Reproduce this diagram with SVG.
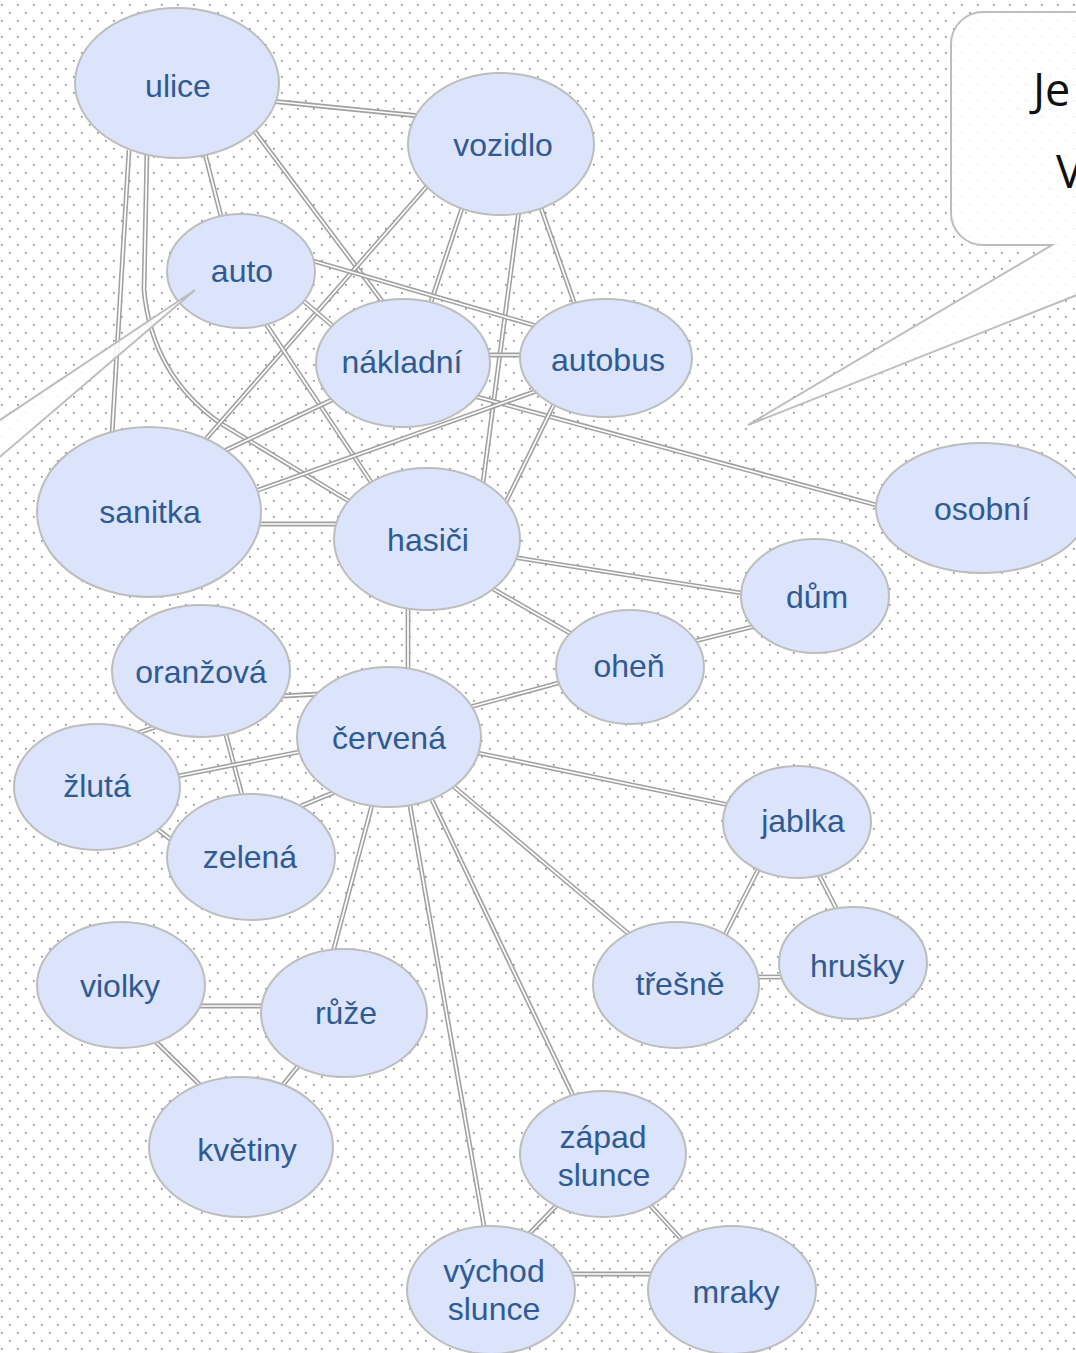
<svg xmlns="http://www.w3.org/2000/svg" xmlns:xlink="http://www.w3.org/1999/xlink" width="1076" height="1353" viewBox="0 0 1076 1353">
<defs>
<pattern id="dots" width="16" height="16" patternUnits="userSpaceOnUse">
<rect x="1" y="4" width="1.7" height="1.7" fill="#8e8e8e"/>
<rect x="9" y="12" width="1.7" height="1.7" fill="#8e8e8e"/>
</pattern>
<path id="e1" d="M270,101 L420,116"/>
<path id="e2" d="M204,150 L222,220"/>
<path id="e3" d="M250,125 L385,305"/>
<path id="e4" d="M129,150 L112,435"/>
<path id="e5" d="M147,150 L144,290 Q152,375 220,423 L352,503"/>
<path id="e6" d="M428,185 L205,440"/>
<path id="e7" d="M463,205 L430,305"/>
<path id="e8" d="M519,210 L482,490"/>
<path id="e9" d="M540,205 L575,305"/>
<path id="e10" d="M310,260 L540,327"/>
<path id="e11" d="M300,298 L335,328"/>
<path id="e12" d="M262,318 L375,488"/>
<path id="e13" d="M485,355 L525,355"/>
<path id="e14" d="M470,395 L880,506"/>
<path id="e15" d="M338,397 L222,452"/>
<path id="e16" d="M545,388 L250,493"/>
<path id="e17" d="M558,396 L504,506"/>
<path id="e18" d="M255,524 L340,524"/>
<path id="e19" d="M512,557 L748,594"/>
<path id="e20" d="M488,586 L575,636"/>
<path id="e21" d="M408,605 L408,672"/>
<path id="e22" d="M695,641 L756,626"/>
<path id="e23" d="M470,707 L562,682"/>
<path id="e24" d="M283,696 L320,694"/>
<path id="e25" d="M138,733 L158,726"/>
<path id="e26" d="M226,735 L242,795"/>
<path id="e27" d="M178,776 L299,752"/>
<path id="e28" d="M156,828 L174,842"/>
<path id="e29" d="M301,806 L335,792"/>
<path id="e30" d="M478,753 L729,805"/>
<path id="e31" d="M453,786 L630,935"/>
<path id="e32" d="M372,805 L333,952"/>
<path id="e33" d="M432,800 L575,1100"/>
<path id="e34" d="M409,800 L485,1232"/>
<path id="e35" d="M759,868 L725,935"/>
<path id="e36" d="M818,873 L837,910"/>
<path id="e37" d="M758,977 L782,977"/>
<path id="e38" d="M200,1006 L263,1006"/>
<path id="e39" d="M155,1041 L200,1085"/>
<path id="e40" d="M299,1065 L282,1086"/>
<path id="e41" d="M557,1205 L528,1235"/>
<path id="e42" d="M650,1205 L682,1240"/>
<path id="e43" d="M570,1274 L653,1274"/>
</defs>
<style>
.o{fill:none;stroke:#a0a0a0;stroke-width:4.8}
.i{fill:none;stroke:#ffffff;stroke-width:1.7}
.n ellipse{fill:#dbe4fb;stroke:#bdbdbd;stroke-width:2}
.n text{font-family:"Liberation Sans",Arial,sans-serif;font-size:32px;fill:#2f5b92;text-anchor:middle}
.callout{fill:#ffffff;fill-opacity:0.85;stroke:#bdbdbd;stroke-width:2}
.ct{font-family:"Open Sans","Noto Sans",sans-serif;font-size:45px;fill:#111111}
</style>
<rect width="1076" height="1353" fill="#ffffff"/>
<rect width="1076" height="1353" fill="url(#dots)"/>

<g id="connectors">
<use xlink:href="#e1" class="o"/><use xlink:href="#e1" class="i"/>
<use xlink:href="#e2" class="o"/><use xlink:href="#e2" class="i"/>
<use xlink:href="#e3" class="o"/><use xlink:href="#e3" class="i"/>
<use xlink:href="#e4" class="o"/><use xlink:href="#e4" class="i"/>
<use xlink:href="#e5" class="o"/><use xlink:href="#e5" class="i"/>
<use xlink:href="#e6" class="o"/><use xlink:href="#e6" class="i"/>
<use xlink:href="#e7" class="o"/><use xlink:href="#e7" class="i"/>
<use xlink:href="#e8" class="o"/><use xlink:href="#e8" class="i"/>
<use xlink:href="#e9" class="o"/><use xlink:href="#e9" class="i"/>
<use xlink:href="#e10" class="o"/><use xlink:href="#e10" class="i"/>
<use xlink:href="#e11" class="o"/><use xlink:href="#e11" class="i"/>
<use xlink:href="#e12" class="o"/><use xlink:href="#e12" class="i"/>
<use xlink:href="#e13" class="o"/><use xlink:href="#e13" class="i"/>
<use xlink:href="#e14" class="o"/><use xlink:href="#e14" class="i"/>
<use xlink:href="#e15" class="o"/><use xlink:href="#e15" class="i"/>
<use xlink:href="#e16" class="o"/><use xlink:href="#e16" class="i"/>
<use xlink:href="#e17" class="o"/><use xlink:href="#e17" class="i"/>
<use xlink:href="#e18" class="o"/><use xlink:href="#e18" class="i"/>
<use xlink:href="#e19" class="o"/><use xlink:href="#e19" class="i"/>
<use xlink:href="#e20" class="o"/><use xlink:href="#e20" class="i"/>
<use xlink:href="#e21" class="o"/><use xlink:href="#e21" class="i"/>
<use xlink:href="#e22" class="o"/><use xlink:href="#e22" class="i"/>
<use xlink:href="#e23" class="o"/><use xlink:href="#e23" class="i"/>
<use xlink:href="#e24" class="o"/><use xlink:href="#e24" class="i"/>
<use xlink:href="#e25" class="o"/><use xlink:href="#e25" class="i"/>
<use xlink:href="#e26" class="o"/><use xlink:href="#e26" class="i"/>
<use xlink:href="#e27" class="o"/><use xlink:href="#e27" class="i"/>
<use xlink:href="#e28" class="o"/><use xlink:href="#e28" class="i"/>
<use xlink:href="#e29" class="o"/><use xlink:href="#e29" class="i"/>
<use xlink:href="#e30" class="o"/><use xlink:href="#e30" class="i"/>
<use xlink:href="#e31" class="o"/><use xlink:href="#e31" class="i"/>
<use xlink:href="#e32" class="o"/><use xlink:href="#e32" class="i"/>
<use xlink:href="#e33" class="o"/><use xlink:href="#e33" class="i"/>
<use xlink:href="#e34" class="o"/><use xlink:href="#e34" class="i"/>
<use xlink:href="#e35" class="o"/><use xlink:href="#e35" class="i"/>
<use xlink:href="#e36" class="o"/><use xlink:href="#e36" class="i"/>
<use xlink:href="#e37" class="o"/><use xlink:href="#e37" class="i"/>
<use xlink:href="#e38" class="o"/><use xlink:href="#e38" class="i"/>
<use xlink:href="#e39" class="o"/><use xlink:href="#e39" class="i"/>
<use xlink:href="#e40" class="o"/><use xlink:href="#e40" class="i"/>
<use xlink:href="#e41" class="o"/><use xlink:href="#e41" class="i"/>
<use xlink:href="#e42" class="o"/><use xlink:href="#e42" class="i"/>
<use xlink:href="#e43" class="o"/><use xlink:href="#e43" class="i"/>
</g>

<g id="n-ulice" class="n"><ellipse cx="177" cy="83" rx="102" ry="75"/><text x="178" y="97">ulice</text></g>
<g id="n-vozidlo" class="n"><ellipse cx="501" cy="144" rx="93" ry="71"/><text x="503" y="156">vozidlo</text></g>
<g id="n-auto" class="n"><ellipse cx="241" cy="271" rx="74" ry="57"/><text x="242" y="282">auto</text></g>
<g id="n-nakladni" class="n"><ellipse cx="403" cy="363" rx="87" ry="64"/><text x="402" y="373">nákladní</text></g>
<g id="n-autobus" class="n"><ellipse cx="606" cy="358" rx="86" ry="59"/><text x="608" y="371">autobus</text></g>
<g id="n-sanitka" class="n"><ellipse cx="149" cy="512" rx="112" ry="85"/><text x="150" y="523">sanitka</text></g>
<g id="n-hasici" class="n"><ellipse cx="427" cy="539" rx="93" ry="71"/><text x="428" y="551">hasiči</text></g>
<g id="n-osobni" class="n"><ellipse cx="982" cy="508" rx="106" ry="65"/><text x="982" y="520">osobní</text></g>
<g id="n-dum" class="n"><ellipse cx="815" cy="596" rx="74" ry="57"/><text x="817" y="608">dům</text></g>
<g id="n-ohen" class="n"><ellipse cx="630" cy="667" rx="74" ry="57"/><text x="629" y="677">oheň</text></g>
<g id="n-oranzova" class="n"><ellipse cx="201" cy="671" rx="89" ry="66"/><text x="201" y="683">oranžová</text></g>
<g id="n-cervena" class="n"><ellipse cx="389" cy="737" rx="92" ry="70"/><text x="389" y="749">červená</text></g>
<g id="n-zluta" class="n"><ellipse cx="97" cy="787" rx="83" ry="63"/><text x="97" y="797">žlutá</text></g>
<g id="n-zelena" class="n"><ellipse cx="251" cy="857" rx="84" ry="63"/><text x="250" y="868">zelená</text></g>
<g id="n-jablka" class="n"><ellipse cx="797" cy="822" rx="74" ry="56"/><text x="803" y="832">jablka</text></g>
<g id="n-tresne" class="n"><ellipse cx="676" cy="985" rx="83" ry="63"/><text x="680" y="995">třešně</text></g>
<g id="n-hrusky" class="n"><ellipse cx="853" cy="963" rx="74" ry="56"/><text x="857" y="977">hrušky</text></g>
<g id="n-violky" class="n"><ellipse cx="121" cy="985" rx="84" ry="63"/><text x="120" y="997">violky</text></g>
<g id="n-ruze" class="n"><ellipse cx="344" cy="1013" rx="83" ry="64"/><text x="346" y="1024">růže</text></g>
<g id="n-kvetiny" class="n"><ellipse cx="241" cy="1147" rx="92" ry="70"/><text x="247" y="1161">květiny</text></g>
<g id="n-zapad" class="n"><ellipse cx="603" cy="1154" rx="83" ry="63"/><text x="603" y="1148">západ</text><text x="604" y="1186">slunce</text></g>
<g id="n-vychod" class="n"><ellipse cx="491" cy="1290" rx="84" ry="64"/><text x="494" y="1282">východ</text><text x="494" y="1320">slunce</text></g>
<g id="n-mraky" class="n"><ellipse cx="732" cy="1290" rx="84" ry="64"/><text x="736" y="1303">mraky</text></g>

<g id="callout-right">
<path class="callout" d="M983,12 H1130 V274 L748,425 L1052,245 H983 A32,32 0 0 1 951,213 V44 A32,32 0 0 1 983,12 Z"/>
<text class="ct" x="1033" y="106">Je</text>
<text class="ct" x="1056" y="188">V</text>
</g>
<g id="callout-left">
<path class="callout" d="M-60,460 L195,290 L-60,508 Z"/>
</g>
</svg>
